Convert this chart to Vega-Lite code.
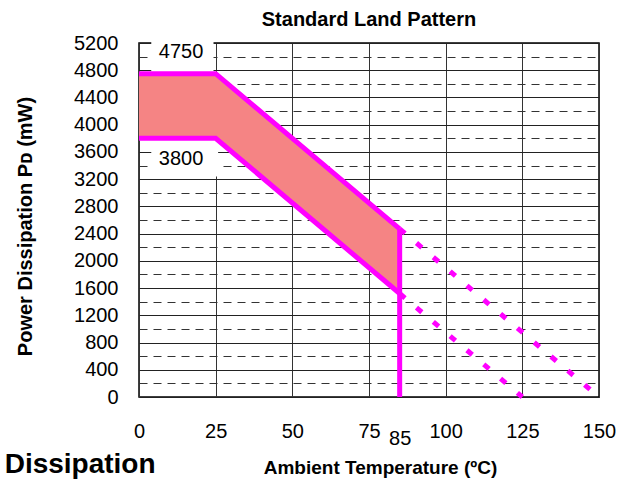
{
  "$schema": "https://vega.github.io/schema/vega-lite/v6.json",
  "width": 460,
  "height": 354,
  "autosize": "none",
  "padding": {"left": 139, "top": 43, "right": 27, "bottom": 82},
  "background": "white",
  "config": {
    "font": "Liberation Sans",
    "view": {"stroke": "#000", "strokeWidth": 1.5},
    "axis": {"labelColor": "#000", "titleColor": "#000", "labelFont": "Liberation Sans", "titleFont": "Liberation Sans"}
  },
  "title": {
    "text": "Standard Land Pattern",
    "fontSize": 20,
    "fontWeight": "bold",
    "font": "Liberation Sans",
    "color": "#000",
    "anchor": "middle",
    "frame": "group",
    "offset": 3
  },
  "datasets": {
    "band": [
      {"t": 0, "hi": 4750, "lo": 3800},
      {"t": 25, "hi": 4750, "lo": 3800},
      {"t": 85, "hi": 2470, "lo": 1520}
    ],
    "lines": [
      {"s": "upper", "part": "solid", "o": 0, "t": 0, "p": 4750},
      {"s": "upper", "part": "solid", "o": 1, "t": 25, "p": 4750},
      {"s": "upper", "part": "solid", "o": 2, "t": 85, "p": 2470},
      {"s": "lower", "part": "solid", "o": 0, "t": 0, "p": 3800},
      {"s": "lower", "part": "solid", "o": 1, "t": 25, "p": 3800},
      {"s": "lower", "part": "solid", "o": 2, "t": 85, "p": 1520},
      {"s": "limit", "part": "solid", "o": 0, "t": 85, "p": 2470},
      {"s": "limit", "part": "solid", "o": 1, "t": 85, "p": 0},
      {"s": "upper_ext", "part": "dotted", "o": 0, "t": 85, "p": 2470},
      {"s": "upper_ext", "part": "dotted", "o": 1, "t": 150, "p": 0},
      {"s": "lower_ext", "part": "dotted", "o": 0, "t": 85, "p": 1520},
      {"s": "lower_ext", "part": "dotted", "o": 1, "t": 125, "p": 0}
    ],
    "boxes": [
      {"x1": 4, "x2": 24.3, "y1": 4790, "y2": 5215},
      {"x1": 4, "x2": 25.8, "y1": 3240, "y2": 3760}
    ],
    "labels": [
      {"t": 13.7, "p": 5072, "text": "4750"},
      {"t": 13.7, "p": 3492, "text": "3800"}
    ],
    "notes": [
      {"t": -19.2, "p": -1120, "text": "Dissipation"}
    ]
  },
  "layer": [
    {
      "data": {"name": "band"},
      "mark": {"type": "area", "color": "#f58484"},
      "encoding": {
        "x": {
          "field": "t", "type": "quantitative",
          "scale": {"domain": [0, 150], "nice": false},
          "axis": {
            "values": [0, 25, 50, 75, 85, 100, 125, 150],
            "tickCount": 20,
            "format": "d",
            "title": "Ambient Temperature (ºC)",
            "grid": true,
            "gridColor": "#333",
            "gridWidth": 1,
            "gridOpacity": {"condition": {"test": "datum.value == 85", "value": 0}, "value": 1},
            "ticks": false,
            "domain": false,
            "labelFontSize": 20,
            "labelPadding": {"condition": {"test": "datum.value == 85", "value": 31}, "value": 24},
            "labelFlush": false,
            "labelOverlap": false,
            "titleFontSize": 19,
            "titleFontWeight": "bold",
            "titleX": 241,
            "titleY": 76,
            "titleBaseline": "alphabetic",
            "titleAlign": "center"
          }
        },
        "y": {
          "field": "hi", "type": "quantitative",
          "scale": {"domain": [0, 5200], "nice": false},
          "axis": {
            "values": [0, 200, 400, 600, 800, 1000, 1200, 1400, 1600, 1800, 2000, 2200, 2400, 2600, 2800, 3000, 3200, 3400, 3600, 3800, 4000, 4200, 4400, 4600, 4800, 5000, 5200],
            "tickCount": 60,
            "format": "d",
            "labelExpr": "datum.value % 400 == 0 ? datum.label : ''",
            "grid": true,
            "gridColor": {"condition": {"test": "datum.value % 400 == 200", "value": "#333"}, "value": "#222"},
            "gridDash": {"condition": {"test": "datum.value % 400 == 200", "value": [8, 6]}, "value": []},
            "gridWidth": 1,
            "ticks": false,
            "domain": false,
            "labelFontSize": 20,
            "labelPadding": 21,
            "labelOverlap": false,
            "labelFlush": false,
            "title": "Power Dissipation Pᴅ (mW)",
            "titleFontSize": 20,
            "titleFontWeight": "bold",
            "titleAngle": -90,
            "titleX": -108,
            "titleY": 183,
            "titleBaseline": "alphabetic",
            "titleAlign": "center"
          }
        },
        "y2": {"field": "lo"}
      }
    },
    {
      "data": {"name": "boxes"},
      "mark": {"type": "rect", "color": "white"},
      "encoding": {
        "x": {"field": "x1", "type": "quantitative"},
        "x2": {"field": "x2"},
        "y": {"field": "y1", "type": "quantitative"},
        "y2": {"field": "y2"}
      }
    },
    {
      "data": {"name": "lines"},
      "transform": [{"filter": "datum.part == 'solid'"}],
      "mark": {"type": "line", "color": "#ff00ff", "strokeWidth": 5},
      "encoding": {
        "x": {"field": "t", "type": "quantitative"},
        "y": {"field": "p", "type": "quantitative"},
        "detail": {"field": "s"},
        "order": {"field": "o"}
      }
    },
    {
      "data": {"name": "lines"},
      "transform": [{"filter": "datum.part == 'dotted'"}],
      "mark": {"type": "line", "color": "#ff00ff", "strokeWidth": 5, "strokeDash": [7, 15]},
      "encoding": {
        "x": {"field": "t", "type": "quantitative"},
        "y": {"field": "p", "type": "quantitative"},
        "detail": {"field": "s"},
        "order": {"field": "o"}
      }
    },
    {
      "data": {"name": "labels"},
      "mark": {"type": "text", "fontSize": 20, "font": "Liberation Sans", "color": "#000", "align": "center", "baseline": "middle"},
      "encoding": {
        "x": {"field": "t", "type": "quantitative"},
        "y": {"field": "p", "type": "quantitative"},
        "text": {"field": "text"}
      }
    },
    {
      "data": {"name": "notes"},
      "mark": {"type": "text", "fontSize": 28, "fontWeight": "bold", "font": "Liberation Sans", "color": "#000", "align": "center", "baseline": "alphabetic"},
      "encoding": {
        "x": {"field": "t", "type": "quantitative"},
        "y": {"field": "p", "type": "quantitative"},
        "text": {"field": "text"}
      }
    }
  ]
}
